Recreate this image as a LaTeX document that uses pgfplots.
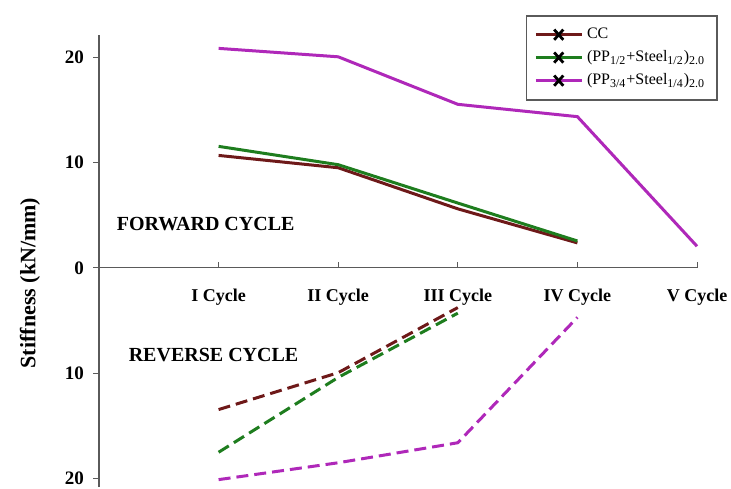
\documentclass[border=0pt]{standalone}
\usepackage{pgfplots}
\pgfplotsset{compat=1.18}
\usepackage{fontspec}
\setmainfont{Liberation Serif}
\newfontfamily\arialf{Liberation Sans}
\definecolor{cbrown}{RGB}{110,25,25}
\definecolor{cgreen}{RGB}{30,125,30}
\definecolor{cpurple}{RGB}{175,40,185}
\definecolor{axgray}{RGB}{90,90,90}
\begin{document}
\begin{tikzpicture}
\useasboundingbox (0,0) rectangle (365.5pt,244pt);
\begin{axis}[
  at={(49.5pt,0.5pt)}, anchor=south west,
  scale only axis, width=299pt, height=226pt,
  xmin=0, xmax=5, ymin=-20.8, ymax=22.1,
  axis x line=middle, axis y line=left,
  axis line style={axgray, line width=0.6pt, -},
  xtick={1,2,3,4,5},
  xticklabels={I Cycle, II Cycle, III Cycle, IV Cycle, V Cycle},
  ytick={-20,-10,0,10,20},
  yticklabels={20,10,0,10,20},
  x tick style={axgray, line width=0.5pt},
  y tick style={axgray, line width=0.5pt},
  xtick align=inside, ytick align=outside,
  major tick length=3pt,
  xticklabel style={font=\fontsize{9}{10}\selectfont\bfseries, yshift=-7pt},
  yticklabel style={font=\fontsize{9.5}{11}\selectfont\bfseries, xshift=-1pt},
  /pgf/number format/assume math mode=true,
  clip=false,
  legend style={at={(1.035,1.044)}, anchor=north east, draw=axgray, line width=0.8pt,
    font=\fontsize{8}{9}\selectfont, row sep=0.5pt, inner xsep=4pt, inner ysep=4pt,
    cells={anchor=west}},
  legend image code/.code={
    \draw[#1, line width=1.5pt, solid] (0cm,0cm) -- (0.8cm,0cm);
    \draw[black, line width=1.4pt, solid] (0.32cm,-0.09cm) -- (0.48cm,0.09cm) (0.32cm,0.09cm) -- (0.48cm,-0.09cm);
  },
]
\addplot[cbrown, line width=1.5pt] coordinates {(1,10.67) (2,9.5) (3,5.6) (4,2.37)};
\addlegendentry{CC}
\addplot[cgreen, line width=1.5pt] coordinates {(1,11.53) (2,9.79) (3,6.15) (4,2.55)};
\addlegendentry{(PP\textsubscript{1/2}+Steel\textsubscript{1/2})\textsubscript{2.0}\hspace{4pt}}
\addplot[cpurple, line width=1.5pt] coordinates {(1,20.83) (2,20.03) (3,15.52) (4,14.35) (5,2.05)};
\addlegendentry{(PP\textsubscript{3/4}+Steel\textsubscript{1/4})\textsubscript{2.0}\hspace{4pt}}
\addplot[cbrown, line width=1.5pt, dash pattern=on 6pt off 3pt, forget plot] coordinates {(1,-13.45) (2,-9.95) (3,-3.77)};
\addplot[cgreen, line width=1.5pt, dash pattern=on 6pt off 3pt, forget plot] coordinates {(1,-17.5) (2,-10.4) (3,-4.3)};
\addplot[cpurple, line width=1.5pt, dash pattern=on 6pt off 3pt, forget plot] coordinates {(1,-20.1) (2,-18.5) (3,-16.6) (4,-4.7)};
\node[anchor=west, font=\fontsize{10}{12}\selectfont\bfseries] at (axis cs:0.09,4.2) {FORWARD CYCLE};
\node[anchor=west, font=\fontsize{10}{12}\selectfont\bfseries] at (axis cs:0.19,-8.25) {REVERSE CYCLE};
\end{axis}
\node[rotate=90, font=\fontsize{11}{13}\selectfont\bfseries] at (15pt,102.5pt) {Stiffness (kN/mm)};
\end{tikzpicture}
\end{document}
